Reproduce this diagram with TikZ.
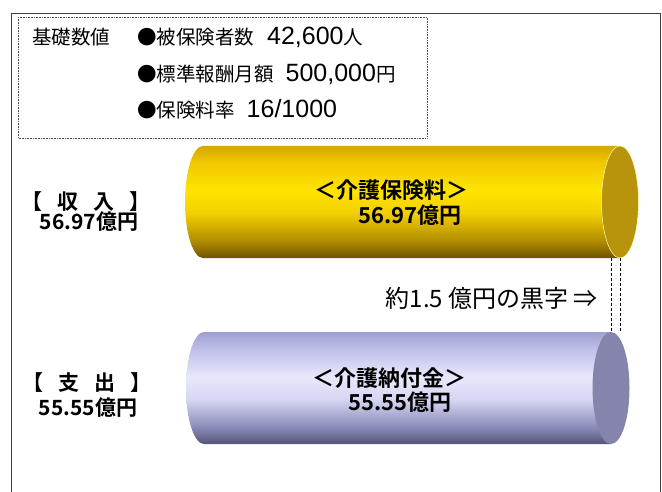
\documentclass[tikz,border=0pt]{standalone}
\usepackage{fontspec}
\newfontfamily\jp[BoldFont={Noto Sans CJK JP Bold}]{Noto Sans CJK JP}
\newfontfamily\lat{Liberation Sans}
\definecolor{yc0}{HTML}{6E5200}
\definecolor{yc1}{HTML}{B08C00}
\definecolor{yc2}{HTML}{F2CF00}
\definecolor{yc3}{HTML}{FFE400}
\definecolor{yc4}{HTML}{F2C800}
\definecolor{yc5}{HTML}{D4A800}
\definecolor{yface}{HTML}{B8940C}
\definecolor{pc0}{HTML}{55557A}
\definecolor{pc1}{HTML}{8A8AB8}
\definecolor{pc2}{HTML}{D6D6F4}
\definecolor{pc3}{HTML}{E8E8FC}
\definecolor{pc4}{HTML}{BEBEEA}
\definecolor{pc5}{HTML}{A0A0D0}
\definecolor{pface}{HTML}{8484AC}
\pgfdeclareverticalshading{ycyl}{100bp}{color(0bp)=(yc0); color(25bp)=(yc0); color(32.5bp)=(yc1); color(45bp)=(yc2); color(55bp)=(yc3); color(67.5bp)=(yc4); color(75bp)=(yc5); color(100bp)=(yc5)}
\pgfdeclareverticalshading{pcyl}{100bp}{color(0bp)=(pc0); color(25bp)=(pc0); color(32.5bp)=(pc1); color(45bp)=(pc2); color(55bp)=(pc3); color(67.5bp)=(pc4); color(75bp)=(pc5); color(100bp)=(pc5)}
\newcommand\kj{\jp\fontsize{19.5pt}{19.5pt}\selectfont}
\newcommand\dg{\lat\fontsize{25pt}{25pt}\selectfont}
\tikzset{
  frame/.style={draw=black!75, line width=0.9pt},
  dotbox/.style={draw=black!70, line width=0.8pt, dash pattern=on 0.8pt off 0.8pt},
  boxtxt/.style={inner sep=0pt, anchor=base west},
  lbl/.style={inner sep=0pt, font=\jp\bfseries\fontsize{21pt}{21pt}\selectfont},
  cyltxt/.style={inner sep=0pt, font=\jp\bfseries\fontsize{22pt}{22pt}\selectfont},
  difftxt/.style={inner sep=0pt, anchor=east, font=\jp\fontsize{24pt}{24pt}\selectfont},
  gap/.style={dash pattern=on 3pt off 2pt, line width=0.8pt, draw=black}
}
\begin{document}
\begin{tikzpicture}[x=1pt,y=-1pt]
\useasboundingbox (0,0) rectangle (662,492);
\fill[white] (0,0) rectangle (662,492);
% outer frame
\draw[frame] (11,492) -- (11,13) -- (660.5,13) -- (660.5,492);
% dotted box
\draw[dotbox] (18,17) rectangle (427,138);
\node[boxtxt] (kiso) at (32,45) {\kj 基礎数値};
\node[boxtxt] (l1) at (137,45) {\kj ●被保険者数\hspace{13pt}\dg 42,600\kj 人};
\node[boxtxt] (l2) at (137,82) {\kj ●標準報酬月額\hspace{12pt}\dg 500,000\kj 円};
\node[boxtxt] (l3) at (137,118) {\kj ●保険料率\hspace{12pt}\dg 16/1000};
% yellow cylinder
\shade[shading=ycyl] (203,146) -- (620,146) -- (620,258) -- (203,258)
  arc[start angle=90, end angle=270, x radius=18, y radius=56] -- cycle;
\fill[yface, draw=yellow!30!white, line width=0.5pt] (620,202) ellipse [x radius=18.5, y radius=56];
% purple cylinder
\shade[shading=pcyl] (204,332) -- (611,332) -- (611,444) -- (204,444)
  arc[start angle=90, end angle=270, x radius=18, y radius=56] -- cycle;
\fill[pface] (611,388) ellipse [x radius=18.5, y radius=56];
% difference lines
\coordinate (ya) at (611,258);
\coordinate (yb) at (620,258);
\coordinate (pa) at (611,332);
\coordinate (pb) at (620,332);
\draw[gap] (ya) -- (pa);
\draw[gap] (yb) -- (pb);
% labels
\node[lbl] (inh) at (86,202) {【\hspace{15pt}収\hspace{15pt}入\hspace{15pt}】};
\node[lbl] (inv) at (89,222) {56.97億円};
\node[lbl] (outh) at (87,383) {【\hspace{15pt}支\hspace{15pt}出\hspace{15pt}】};
\node[lbl] (outv) at (88,408) {55.55億円};
\node[cyltxt] (yt) at (391,190) {＜介護保険料＞};
\node[cyltxt] (yv) at (410,215) {56.97億円};
\node[cyltxt] (pt) at (389,378) {＜介護納付金＞};
\node[cyltxt] (pv) at (400,402) {55.55億円};
\node[difftxt] (diff) at (598,298) {約1.5 億円の黒字 ⇒};
\end{tikzpicture}
\end{document}
